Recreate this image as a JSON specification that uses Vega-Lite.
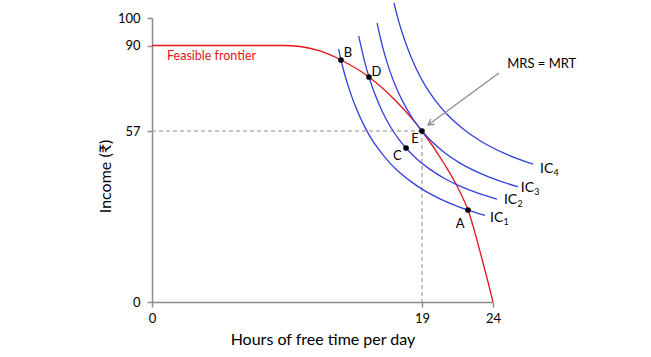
{
  "$schema": "https://vega.github.io/schema/vega-lite/v6.json",
  "width": 341,
  "height": 284,
  "autosize": {"type": "none"},
  "padding": {"left": 152, "top": 18, "right": 158, "bottom": 55},
  "background": "white",
  "config": {
    "view": {"stroke": null},
    "font": "Lato, Noto Sans, sans-serif",
    "axis": {
      "grid": false,
      "domainColor": "#8c8c8c",
      "domainWidth": 1.5,
      "tickColor": "#8c8c8c",
      "tickWidth": 1.5,
      "tickSize": 5,
      "labelColor": "black",
      "labelFontSize": 13,
      "labelFont": "Lato, Noto Sans, sans-serif",
      "titleFont": "Lato, Noto Sans, sans-serif",
      "titleFontSize": 16,
      "titleFontWeight": "normal",
      "titleColor": "black",
      "labelFlush": false,
      "labelOverlap": false
    }
  },
  "datasets": {
    "curves": [
      {"curve": "Frontier", "x": 0, "y": 90},
      {"curve": "Frontier", "x": 9.22, "y": 90},
      {"curve": "Frontier", "x": 10.42, "y": 89.61},
      {"curve": "Frontier", "x": 11.82, "y": 87.88},
      {"curve": "Frontier", "x": 13.30, "y": 84.40},
      {"curve": "Frontier", "x": 15.27, "y": 77.84},
      {"curve": "Frontier", "x": 17.10, "y": 68.96},
      {"curve": "Frontier", "x": 19.0, "y": 57},
      {"curve": "Frontier", "x": 20.62, "y": 45.67},
      {"curve": "Frontier", "x": 21.54, "y": 38.0},
      {"curve": "Frontier", "x": 22.24, "y": 30.67},
      {"curve": "Frontier", "x": 23.30, "y": 13.0},
      {"curve": "Frontier", "x": 23.65, "y": 6.67},
      {"curve": "Frontier", "x": 24, "y": 0},
      {"curve": "IC1", "x": 13.13, "y": 88.65},
      {"curve": "IC1", "x": 13.30, "y": 84.40},
      {"curve": "IC1", "x": 13.58, "y": 78.50},
      {"curve": "IC1", "x": 13.94, "y": 72.21},
      {"curve": "IC1", "x": 14.36, "y": 65.95},
      {"curve": "IC1", "x": 14.85, "y": 59.93},
      {"curve": "IC1", "x": 15.34, "y": 55.23},
      {"curve": "IC1", "x": 16.05, "y": 50.27},
      {"curve": "IC1", "x": 16.75, "y": 46.30},
      {"curve": "IC1", "x": 17.45, "y": 43.07},
      {"curve": "IC1", "x": 18.30, "y": 39.87},
      {"curve": "IC1", "x": 19.21, "y": 37.03},
      {"curve": "IC1", "x": 20.27, "y": 34.40},
      {"curve": "IC1", "x": 21.33, "y": 32.23},
      {"curve": "IC1", "x": 22.24, "y": 30.63},
      {"curve": "IC1", "x": 23.44, "y": 28.90},
      {"curve": "IC2", "x": 14.55, "y": 93.45},
      {"curve": "IC2", "x": 14.78, "y": 87.99},
      {"curve": "IC2", "x": 14.99, "y": 83.28},
      {"curve": "IC2", "x": 15.27, "y": 77.84},
      {"curve": "IC2", "x": 15.70, "y": 71.05},
      {"curve": "IC2", "x": 16.19, "y": 64.72},
      {"curve": "IC2", "x": 16.75, "y": 58.93},
      {"curve": "IC2", "x": 17.31, "y": 54.63},
      {"curve": "IC2", "x": 17.88, "y": 51.33},
      {"curve": "IC2", "x": 18.72, "y": 47.33},
      {"curve": "IC2", "x": 19.57, "y": 44.20},
      {"curve": "IC2", "x": 20.62, "y": 41.10},
      {"curve": "IC2", "x": 21.68, "y": 38.63},
      {"curve": "IC2", "x": 22.94, "y": 36.27},
      {"curve": "IC2", "x": 24.28, "y": 34.30},
      {"curve": "IC3", "x": 15.84, "y": 98.18},
      {"curve": "IC3", "x": 16.05, "y": 93.27},
      {"curve": "IC3", "x": 16.40, "y": 86.10},
      {"curve": "IC3", "x": 16.75, "y": 80.00},
      {"curve": "IC3", "x": 17.17, "y": 73.94},
      {"curve": "IC3", "x": 17.67, "y": 68.15},
      {"curve": "IC3", "x": 18.30, "y": 62.21},
      {"curve": "IC3", "x": 19.0, "y": 57},
      {"curve": "IC3", "x": 19.71, "y": 53.40},
      {"curve": "IC3", "x": 20.62, "y": 49.67},
      {"curve": "IC3", "x": 21.68, "y": 46.30},
      {"curve": "IC3", "x": 22.95, "y": 43.20},
      {"curve": "IC3", "x": 24.35, "y": 40.53},
      {"curve": "IC3", "x": 25.76, "y": 38.43},
      {"curve": "IC4", "x": 17.03, "y": 105.45},
      {"curve": "IC4", "x": 17.31, "y": 99.78},
      {"curve": "IC4", "x": 17.67, "y": 93.71},
      {"curve": "IC4", "x": 18.09, "y": 87.45},
      {"curve": "IC4", "x": 18.58, "y": 81.20},
      {"curve": "IC4", "x": 19.21, "y": 74.68},
      {"curve": "IC4", "x": 19.92, "y": 68.93},
      {"curve": "IC4", "x": 20.76, "y": 63.45},
      {"curve": "IC4", "x": 21.82, "y": 58.12},
      {"curve": "IC4", "x": 23.09, "y": 53.73},
      {"curve": "IC4", "x": 24.85, "y": 49.43},
      {"curve": "IC4", "x": 26.82, "y": 45.93}
    ],
    "guides": [
      {"x": 0, "x2": 19, "y": 57, "y2": 57},
      {"x": 19, "x2": 19, "y": 57, "y2": 0}
    ],
    "arrow": [
      {"x": 24.42, "y": 79.39, "x2": 19.43, "y2": 59.32}
    ],
    "arrowhead": [
      {"x": 19.43, "y": 59.32}
    ],
    "dots": [
      {"label": "B", "x": 13.30, "y": 84.40},
      {"label": "D", "x": 15.27, "y": 77.84},
      {"label": "E", "x": 19.0, "y": 57},
      {"label": "C", "x": 17.88, "y": 51.33},
      {"label": "A", "x": 22.24, "y": 30.67}
    ],
    "letters": [
      {"label": "B", "x": 13.79, "y": 87.11},
      {"label": "D", "x": 15.79, "y": 79.89},
      {"label": "E", "x": 18.51, "y": 54.23},
      {"label": "C", "x": 17.27, "y": 48.67},
      {"label": "A", "x": 21.68, "y": 26.0}
    ],
    "frontierLabel": [
      {"label": "Feasible frontier", "x": 1.06, "y": 85.95}
    ],
    "mrsLabel": [
      {"label": "MRS = MRT", "x": 25.0, "y": 82.86}
    ],
    "icLabels": [
      {"label": "IC", "sub": "1", "x": 23.79, "y": 28.0},
      {"label": "IC", "sub": "2", "x": 24.77, "y": 34.0},
      {"label": "IC", "sub": "3", "x": 25.95, "y": 38.1},
      {"label": "IC", "sub": "4", "x": 27.31, "y": 44.33}
    ]
  },
  "encoding": {
    "x": {
      "field": "x",
      "type": "quantitative",
      "scale": {"domain": [0, 24], "nice": false, "zero": false},
      "axis": {
        "values": [0, 19, 24],
        "title": "Hours of free time per day",
        "labelPadding": 5,
        "titleBaseline": "middle",
        "titleY": 37
      }
    },
    "y": {
      "field": "y",
      "type": "quantitative",
      "scale": {"type": "linear", "domain": [0, 57, 90, 100], "range": [284, 113, 27.5, 0], "nice": false, "zero": false},
      "axis": {
        "values": [0, 57, 90, 100],
        "title": "Income (₹)",
        "labelPadding": 7,
        "titleX": -47,
        "titleY": 158,
        "titleBaseline": "middle",
        "titleAlign": "center",
        "titleAngle": -90
      }
    }
  },
  "layer": [
    {
      "data": {"name": "guides"},
      "mark": {"type": "rule", "color": "#8c8c8c", "strokeWidth": 1, "strokeDash": [4, 3]},
      "encoding": {"x2": {"field": "x2"}, "y2": {"field": "y2"}}
    },
    {
      "data": {"name": "curves"},
      "mark": {"type": "line", "interpolate": "monotone", "strokeWidth": 1.3},
      "encoding": {
        "color": {
          "field": "curve",
          "type": "nominal",
          "scale": {"domain": ["Frontier", "IC1", "IC2", "IC3", "IC4"], "range": ["#e3141b", "#3340dd", "#3340dd", "#3340dd", "#3340dd"]},
          "legend": null
        }
      }
    },
    {
      "data": {"name": "arrow"},
      "mark": {"type": "rule", "color": "#8c8c8c", "strokeWidth": 1.3},
      "encoding": {"x2": {"field": "x2"}, "y2": {"field": "y2"}}
    },
    {
      "data": {"name": "arrowhead"},
      "mark": {"type": "point", "shape": "M-1.4,-0.8L0,0L-1.4,0.8", "angle": 143.8, "size": 64, "filled": false, "stroke": "#8c8c8c", "strokeWidth": 1.3, "opacity": 1},
      "encoding": {}
    },
    {
      "data": {"name": "dots"},
      "mark": {"type": "point", "shape": "circle", "filled": true, "color": "black", "size": 32, "opacity": 1},
      "encoding": {}
    },
    {
      "data": {"name": "letters"},
      "mark": {"type": "text", "fontSize": 13, "align": "center", "baseline": "middle", "color": "black"},
      "encoding": {"text": {"field": "label"}}
    },
    {
      "data": {"name": "frontierLabel"},
      "mark": {"type": "text", "fontSize": 12.5, "align": "left", "baseline": "middle", "color": "#e3141b"},
      "encoding": {"text": {"field": "label"}}
    },
    {
      "data": {"name": "mrsLabel"},
      "mark": {"type": "text", "fontSize": 13, "align": "left", "baseline": "middle", "color": "black"},
      "encoding": {"text": {"field": "label"}}
    },
    {
      "data": {"name": "icLabels"},
      "mark": {"type": "text", "fontSize": 14, "align": "left", "baseline": "middle", "color": "black"},
      "encoding": {"text": {"field": "label"}}
    },
    {
      "data": {"name": "icLabels"},
      "mark": {"type": "text", "fontSize": 9, "align": "left", "baseline": "middle", "color": "black", "dx": 13.5, "dy": 4},
      "encoding": {"text": {"field": "sub"}}
    }
  ]
}
